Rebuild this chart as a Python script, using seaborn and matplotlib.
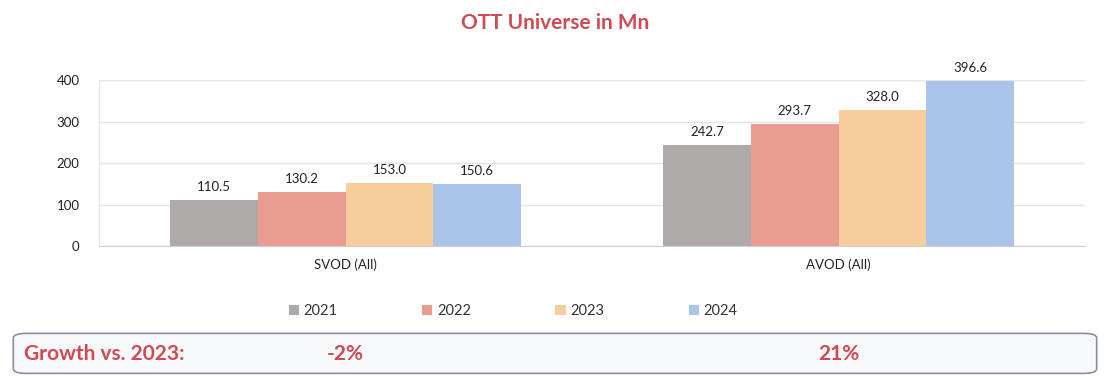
import pandas as pd
import seaborn as sns
import matplotlib.pyplot as plt
from matplotlib.patches import FancyBboxPatch
from matplotlib.transforms import blended_transform_factory

# Chart data
categories = ['SVOD (All)', 'AVOD (All)']
years = ['2021', '2022', '2023', '2024']
svod = [110.5, 130.2, 153.0, 150.6]
avod = [242.7, 293.7, 328.0, 396.6]
growth_labels = ['-2%', '21%']
colors = ['#aeaaa9', '#ea9c93', '#f7cd9c', '#abc4e9']

df = pd.DataFrame({
    'category': [categories[0]] * 4 + [categories[1]] * 4,
    'year': years * 2,
    'value': svod + avod,
})

sns.set_style('white')
plt.rcParams['font.family'] = ['Lato', 'DejaVu Sans']

red = '#cf4a55'
fig = plt.figure(figsize=(11.1, 3.81), dpi=100)
ax = fig.add_axes([0.0892, 0.3543, 0.8883, 0.4357])

sns.barplot(data=df, x='category', y='value', hue='year', palette=colors,
            width=0.712, gap=0, saturation=1, linewidth=0, ax=ax, legend=True)

for cont in ax.containers:
    ax.bar_label(cont, fmt='%.1f', padding=5, fontsize=9.5, color='#222222')

ax.set_ylim(0, 400)
ax.set_xlim(-0.5, 1.5)
ax.set_yticks([0, 100, 200, 300, 400])
ax.yaxis.grid(True, color='#e4e4e4', lw=1)
ax.set_axisbelow(True)
for s in ['top', 'right']:
    ax.spines[s].set_visible(False)
ax.spines['left'].set_color('#e4e4e4')
ax.spines['bottom'].set_color('#cfcfcf')
ax.tick_params(axis='both', length=0, labelsize=9.5, colors='#222222')
ax.tick_params(axis='y', pad=14)
ax.tick_params(axis='x', pad=9)
ax.set_xlabel('')
ax.set_ylabel('')

ax.legend(loc='upper center', bbox_to_anchor=(0.42, -0.27), ncol=4, frameon=False,
          fontsize=10.5, handlelength=0.7, handleheight=0.7, handletextpad=0.3,
          columnspacing=5.8, labelcolor='#333333')

fig.text(0.5, 0.94, 'OTT Universe in Mn', ha='center', va='center',
         fontsize=15, fontweight='bold', color=red)

# growth box
box = FancyBboxPatch((0.012, 0.02), 0.976, 0.105, boxstyle='round,pad=0,rounding_size=0.012',
                     transform=fig.transFigure, facecolor='#f7f8fa', edgecolor='#8a8fa0',
                     lw=1.2, zorder=-1)
fig.patches.append(box)
fig.text(0.022, 0.072, 'Growth vs. 2023:', ha='left', va='center',
         fontsize=15, fontweight='bold', color=red)
trans = blended_transform_factory(ax.transData, fig.transFigure)
for i, g in enumerate(growth_labels):
    fig.text(i, 0.072, g, transform=trans, ha='center', va='center',
             fontsize=15, fontweight='bold', color=red)

fig.savefig('out.png', dpi=100)
